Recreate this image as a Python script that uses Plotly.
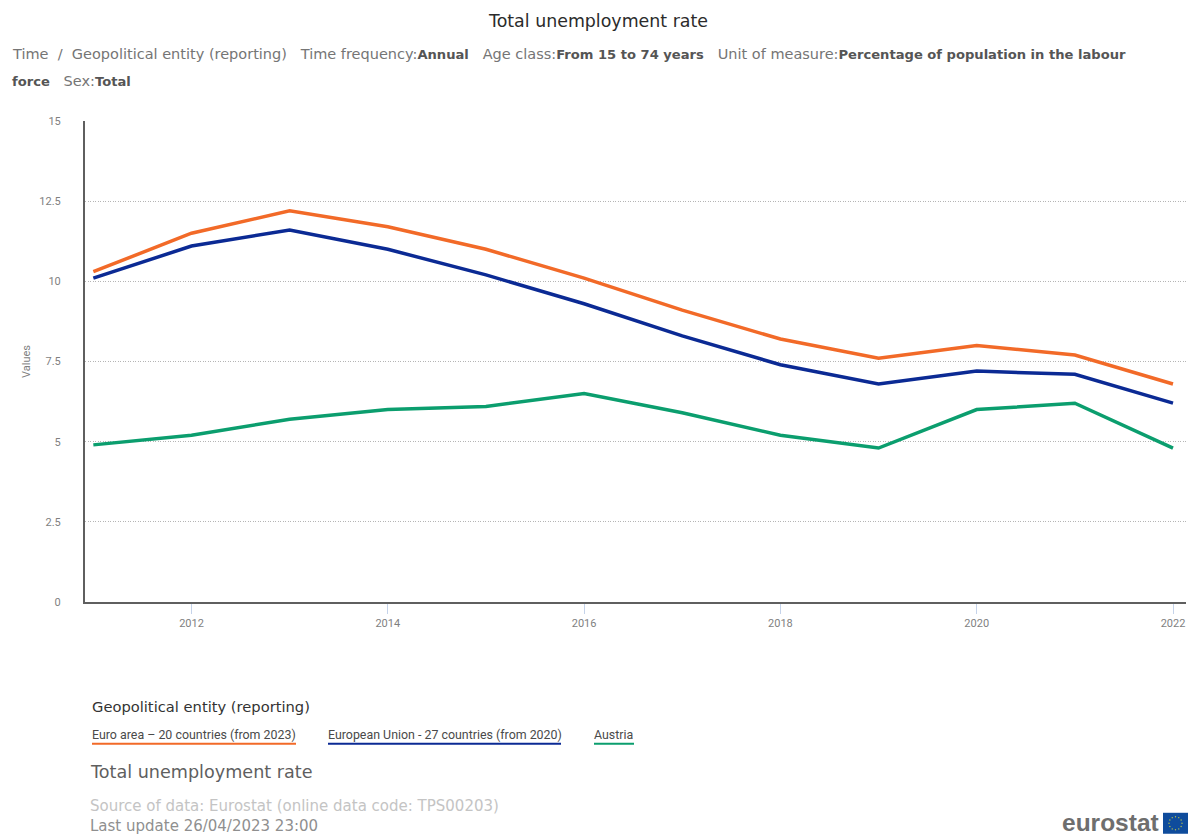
import math
import plotly.graph_objects as go

W, H = 1191, 835
LEFT, RIGHT, TOP, BOTTOM = 85, 1186, 120.5, 602

years = list(range(2011, 2023))
euro_area = [10.3, 11.5, 12.2, 11.7, 11.0, 10.1, 9.1, 8.2, 7.6, 8.0, 7.7, 6.8]
eu_27 = [10.1, 11.1, 11.6, 11.0, 10.2, 9.3, 8.3, 7.4, 6.8, 7.2, 7.1, 6.2]
austria = [4.9, 5.2, 5.7, 6.0, 6.1, 6.5, 5.9, 5.2, 4.8, 6.0, 6.2, 4.8]

series_names = [
    "Euro area \u2013 20 countries (from 2023)",
    "European Union - 27 countries (from 2020)",
    "Austria",
]
series_colors = ["#f26a28", "#0b2a94", "#0b9e6e"]
y_ticks = [0, 2.5, 5, 7.5, 10, 12.5, 15]
x_ticks = [2012, 2014, 2016, 2018, 2020, 2022]

BODY_FONT = "DejaVu Sans"
TICK_FONT = "Roboto"


def px(x):
    """Pixel column to paper fraction."""
    return (x - LEFT) / (RIGHT - LEFT)


def py(y):
    """Pixel row to paper fraction."""
    return (BOTTOM - y) / (BOTTOM - TOP)


def label(x, y, text, size, color, font=BODY_FONT, anchor="left", **kw):
    # annotations carry 2px of internal padding on the left
    shift = 2 if anchor == "left" else 0
    return dict(
        x=px(x - shift), y=py(y), xref="paper", yref="paper", text=text, showarrow=False,
        xanchor=anchor, yanchor="middle", align="left",
        font=dict(family=font, size=size, color=color), **kw,
    )


def strong(text):
    return f"<b style='color:#555555;font-size:13.1px'>{text}</b>"


fig = go.Figure()
for name, values, color in zip(series_names, [euro_area, eu_27, austria], series_colors):
    fig.add_trace(go.Scatter(
        x=years, y=values, name=name, mode="lines",
        line=dict(color=color, width=3.5), showlegend=False,
    ))

dim = "#757575"
annotations = [
    label(598, 20, "Total unemployment rate", 17.4, "#2b2b2b", anchor="center"),
    label(12, 53,
          f"Time  /  Geopolitical entity (reporting)   Time frequency:{strong('Annual')}"
          f"   Age class:{strong('From 15 to 74 years')}"
          f"   Unit of measure:{strong('Percentage of population in the labour')}",
          14.5, dim),
    label(12, 80, f"{strong('force')}   Sex:{strong('Total')}", 14.5, dim),
    label(92, 707, "Geopolitical entity (reporting)", 14.7, "#333333"),
    label(90, 772, "Total unemployment rate", 17.6, "#5f5f5f"),
    label(90, 806, "Source of data: Eurostat (online data code: TPS00203)", 15, "#c4c4c4"),
    label(90, 826, "Last update 26/04/2023 23:00", 15, "#8f8f8f"),
    label(1161, 822.5, "<b>eurostat</b>", 24.5, "#6e6e6e", font="Liberation Sans", anchor="right"),
]

# Legend row: name with a coloured rule underneath
legend_spans = [(92, 296), (328, 561), (594, 634)]
shapes = []
for name, color, (x0, x1) in zip(series_names, series_colors, legend_spans):
    annotations.append(label(x0, 735, name, 12.4, "#4a4a4a", font=TICK_FONT))
    shapes.append(dict(
        type="line", xref="paper", yref="paper", x0=px(x0), x1=px(x1), y0=py(744), y1=py(744),
        line=dict(color=color, width=2),
    ))

# European flag next to the wordmark
flag = dict(x0=1163, x1=1188, y0=813, y1=834)
shapes.append(dict(
    type="rect", xref="paper", yref="paper", layer="above",
    x0=px(flag["x0"]), x1=px(flag["x1"]), y0=py(flag["y1"]), y1=py(flag["y0"]),
    fillcolor="#0f4c9c", line=dict(width=0),
))
for i in range(12):
    angle = math.radians(30 * i)
    cx = 1175.5 + 6.5 * math.cos(angle)
    cy = 823.5 + 6.5 * math.sin(angle)
    shapes.append(dict(
        type="circle", xref="paper", yref="paper", layer="above",
        x0=px(cx - 0.7), x1=px(cx + 0.7), y0=py(cy + 0.7), y1=py(cy - 0.7),
        fillcolor="#b9c44a", line=dict(width=0),
    ))

fig.update_layout(
    width=W, height=H, autosize=False,
    margin=dict(l=LEFT, r=W - RIGHT, t=TOP, b=H - BOTTOM, pad=0),
    paper_bgcolor="white", plot_bgcolor="white",
    annotations=annotations, shapes=shapes,
    font=dict(family=TICK_FONT),
)
fig.update_xaxes(
    range=[2010.915, 2022.1325], tickvals=x_ticks, ticktext=[str(v) for v in x_ticks],
    showgrid=False, zeroline=False, showline=True, linecolor="#5f5f5f", linewidth=2,
    ticks="outside", ticklen=10, tickwidth=1, tickcolor="#c5d3ea",
    tickfont=dict(family=TICK_FONT, size=11, color="#7f7f7f"),
)
fig.update_yaxes(
    range=[0, 15], tickvals=y_ticks, ticktext=[f"{v:g}" for v in y_ticks],
    showgrid=True, gridcolor="#b5b5b5", griddash="1px,1.5px", gridwidth=1,
    zeroline=False, showline=True, linecolor="#5f5f5f", linewidth=2,
    ticks="", ticklabelstandoff=20, tickfont=dict(family=TICK_FONT, size=11, color="#7f7f7f"),
    title=dict(text="Values", font=dict(family=TICK_FONT, size=11, color="#7f7f7f"), standoff=6),
)

fig.write_html("out.html")
